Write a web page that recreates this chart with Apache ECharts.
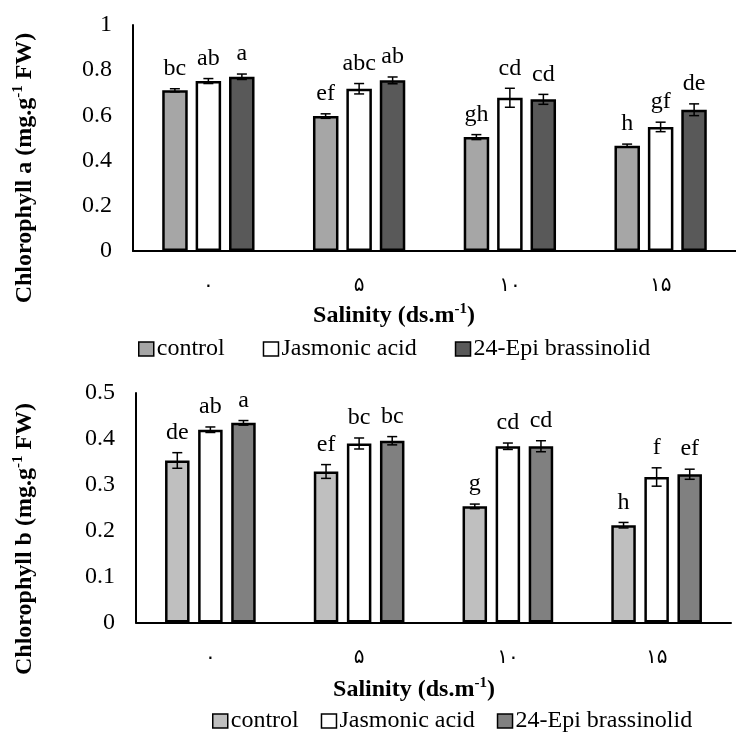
<!DOCTYPE html>
<html>
<head>
<meta charset="utf-8">
<script src="https://cdn.jsdelivr.net/npm/echarts@6/dist/echarts.min.js"></script>
<style>html,body{margin:0;padding:0;background:#fff}#c{width:736px;height:736px}</style>
</head>
<body>
<div id="c"></div>
<script>
// ---- data ----
const categories = ['۰', '۵', '۱۰', '۱۵'];
const seriesNames = ['control', 'Jasmonic acid', '24-Epi brassinolid'];

// Chlorophyll a
const chlA_control = [0.711, 0.597, 0.504, 0.466];
const chlA_jasmonic = [0.752, 0.718, 0.678, 0.549];
const chlA_brass = [0.771, 0.755, 0.671, 0.625];
const chlA_err_control = [0.007, 0.010, 0.011, 0.007];
const chlA_err_jasmonic = [0.011, 0.023, 0.042, 0.021];
const chlA_err_brass = [0.012, 0.015, 0.022, 0.026];
const chlA_let_control = ['bc', 'ef', 'gh', 'h'];
const chlA_let_jasmonic = ['ab', 'abc', 'cd', 'gf'];
const chlA_let_brass = ['a', 'ab', 'cd', 'de'];
const chlA_ticks = ['0', '0.2', '0.4', '0.6', '0.8', '1'];

// Chlorophyll b
const chlB_control = [0.353, 0.329, 0.253, 0.212];
const chlB_jasmonic = [0.420, 0.390, 0.384, 0.317];
const chlB_brass = [0.435, 0.396, 0.384, 0.323];
const chlB_err_control = [0.017, 0.015, 0.005, 0.006];
const chlB_err_jasmonic = [0.006, 0.012, 0.007, 0.020];
const chlB_err_brass = [0.005, 0.009, 0.012, 0.011];
const chlB_let_control = ['de', 'ef', 'g', 'h'];
const chlB_let_jasmonic = ['ab', 'bc', 'cd', 'f'];
const chlB_let_brass = ['a', 'bc', 'cd', 'ef'];
const chlB_ticks = ['0', '0.1', '0.2', '0.3', '0.4', '0.5'];

// ---- styles ----
const SERIF = '"Liberation Serif", "Times New Roman", serif';
const colorsA = ['#a6a6a6', '#ffffff', '#595959'];
const colorsB = ['#bfbfbf', '#ffffff', '#808080'];

function barSeries(g, name, data, color, bw, gap) {
  return {
    type: 'bar', name: name, xAxisIndex: g, yAxisIndex: g, data: data,
    barWidth: bw, barGap: gap,
    itemStyle: { color: color, borderColor: '#000', borderWidth: 2.5 }
  };
}
function errSeries(g, idx, values, errs, letters, spacing) {
  return {
    type: 'custom', xAxisIndex: g, yAxisIndex: g, z: 10,
    data: values.map((v, i) => [i, v, errs[i]]),
    encode: { x: 0, y: 1 },
    renderItem: function (params, api) {
      const i = api.value(0), v = api.value(1), e = api.value(2);
      const off = (idx - 1) * spacing;
      const hi = api.coord([i, v + e]);
      const lo = api.coord([i, v - e]);
      const x = hi[0] + off;
      const cap = 5;
      const st = { stroke: '#000', lineWidth: 1.5 };
      return {
        type: 'group', children: [
          { type: 'line', shape: { x1: x, y1: hi[1], x2: x, y2: lo[1] }, style: st },
          { type: 'line', shape: { x1: x - cap, y1: hi[1], x2: x + cap, y2: hi[1] }, style: st },
          { type: 'line', shape: { x1: x - cap, y1: lo[1], x2: x + cap, y2: lo[1] }, style: st },
          { type: 'text', x: x, y: hi[1] - 8, style: { text: letters[params.dataIndex], align: 'center', verticalAlign: 'bottom', fontFamily: SERIF, fontSize: 24, fill: '#000' } }
        ]
      };
    }
  };
}

function yAxisCfg(g, max, interval, ticks) {
  return {
    type: 'value', gridIndex: g, min: 0, max: max, interval: interval,
    axisLine: { show: true, lineStyle: { color: '#000', width: 2 } },
    axisTick: { show: false }, splitLine: { show: false },
    axisLabel: {
      margin: 21, color: '#000', fontFamily: SERIF, fontSize: 24,
      formatter: function (val) { return ticks[Math.round(val / interval)]; }
    }
  };
}
function xAxisCfg(g, margin) {
  return {
    type: 'category', gridIndex: g, data: categories,
    axisLine: { lineStyle: { color: '#000', width: 2 } },
    axisTick: { show: false },
    axisLabel: { interval: 0, margin: margin, color: '#000', fontFamily: '"DejaVu Sans"', fontSize: 20 }
  };
}
function legendCfg(left, top, gap, colors) {
  return {
    left: left, top: top, padding: 0, itemWidth: 15, itemHeight: 14, itemGap: gap, icon: 'rect',
    selectedMode: false,
    itemStyle: { borderColor: '#000', borderWidth: 1.5 },
    textStyle: { fontFamily: SERIF, fontSize: 24, color: '#000', lineHeight: 24, padding: [0, 0, 0, -2] },
    data: seriesNames.map((n, i) => ({ name: n, itemStyle: { color: colors[i], borderColor: '#000', borderWidth: 1.5 } }))
  };
}
function richTitle(before, sup, after, x, y, rot) {
  return {
    type: 'text', x: x, y: y, rotation: rot || 0,
    style: {
      text: '{b|' + before + '}{s|' + sup + '}{b|' + after + '}',
      align: 'center', verticalAlign: 'middle',
      rich: {
        b: { fontFamily: SERIF, fontSize: 24, fontWeight: 'bold', fill: '#000', lineHeight: 28 },
        s: { fontFamily: SERIF, fontSize: 15, fontWeight: 'bold', fill: '#000', lineHeight: 15, verticalAlign: 'top' }
      }
    }
  };
}

const chart = echarts.init(document.getElementById('c'), null, { renderer: 'canvas' });
chart.setOption({
  animation: false,
  backgroundColor: '#fff',
  grid: [
    { left: 133, top: 25, width: 611, height: 226 },
    { left: 136, top: 393, width: 595, height: 229.5 }
  ],
  xAxis: [xAxisCfg(0, 25), xAxisCfg(1, 25)],
  yAxis: [yAxisCfg(0, 1, 0.2, chlA_ticks), yAxisCfg(1, 0.5, 0.1, chlB_ticks)],
  legend: [legendCfg(138, 337, 38, colorsA), legendCfg(212, 709, 22, colorsB)],
  series: [
    barSeries(0, seriesNames[0], chlA_control, colorsA[0], 25.5, '31%'),
    barSeries(0, seriesNames[1], chlA_jasmonic, colorsA[1], 25.5, '31%'),
    barSeries(0, seriesNames[2], chlA_brass, colorsA[2], 25.5, '31%'),
    errSeries(0, 0, chlA_control, chlA_err_control, chlA_let_control, 33.5),
    errSeries(0, 1, chlA_jasmonic, chlA_err_jasmonic, chlA_let_jasmonic, 33.5),
    errSeries(0, 2, chlA_brass, chlA_err_brass, chlA_let_brass, 33.5),
    barSeries(1, seriesNames[0], chlB_control, colorsB[0], 24.5, '35%'),
    barSeries(1, seriesNames[1], chlB_jasmonic, colorsB[1], 24.5, '35%'),
    barSeries(1, seriesNames[2], chlB_brass, colorsB[2], 24.5, '35%'),
    errSeries(1, 0, chlB_control, chlB_err_control, chlB_let_control, 33.08),
    errSeries(1, 1, chlB_jasmonic, chlB_err_jasmonic, chlB_let_jasmonic, 33.08),
    errSeries(1, 2, chlB_brass, chlB_err_brass, chlB_let_brass, 33.08)
  ],
  graphic: [
    richTitle('Salinity (ds.m', '-1', ')', 394, 316),
    richTitle('Salinity (ds.m', '-1', ')', 414, 690),
    richTitle('Chlorophyll a (mg.g', '-1', ' FW)', 25, 168, Math.PI / 2),
    richTitle('Chlorophyll b (mg.g', '-1', ' FW)', 25, 539, Math.PI / 2)
  ]
});
</script>
</body>
</html>
